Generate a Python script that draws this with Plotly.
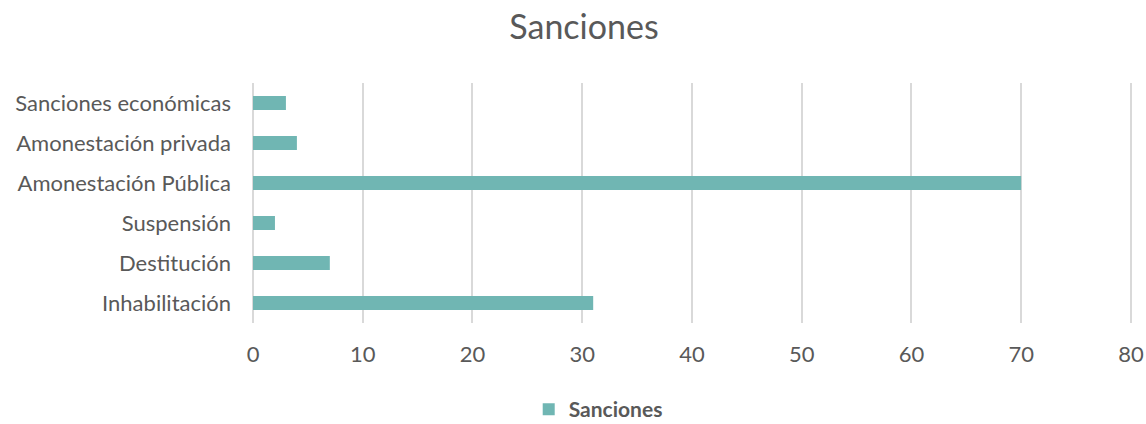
import plotly.graph_objects as go

categorias = ["Inhabilitación", "Destitución", "Suspensión",
              "Amonestación Pública", "Amonestación privada", "Sanciones económicas"]
valores = [31, 7, 2, 70, 4, 3]
ticks_x = [0, 10, 20, 30, 40, 50, 60, 70, 80]

fig = go.Figure()
fig.add_trace(go.Bar(
    y=categorias, x=valores, orientation="h", name="Sanciones",
    marker=dict(color="#70b6b3", line=dict(width=0)),
    showlegend=True,
))

fig.update_layout(
    width=1146, height=424,
    margin=dict(l=253, r=14, t=83, b=101, autoexpand=False),
    paper_bgcolor="white", plot_bgcolor="white",
    font=dict(family="Lato, 'Open Sans', sans-serif", color="#595959"),
    title=dict(text="Sanciones", x=0.5096, xref="container", y=0.935, yref="container",
               xanchor="center", yanchor="middle",
               font=dict(size=34, color="#595959")),
    bargap=0.65,
    xaxis=dict(range=[0, 80.1], tickvals=ticks_x, showgrid=True, gridcolor="#d9d9d9",
               gridwidth=1.5, zeroline=True, zerolinecolor="#d9d9d9", zerolinewidth=1.5,
               showline=False, ticks="", automargin=False,
               tickfont=dict(size=22, color="#595959"), ticklabelstandoff=16),
    yaxis=dict(showgrid=False, zeroline=False, showline=False, ticks="", automargin=False,
               tickfont=dict(size=22, color="#595959"), ticklabelstandoff=21),
    legend=dict(orientation="h", x=0.522, xref="container", xanchor="center",
                y=0.034, yref="container", yanchor="middle",
                font=dict(size=21, color="#595959", weight="bold"),
                itemwidth=30),
)
fig.write_html("out.html")
